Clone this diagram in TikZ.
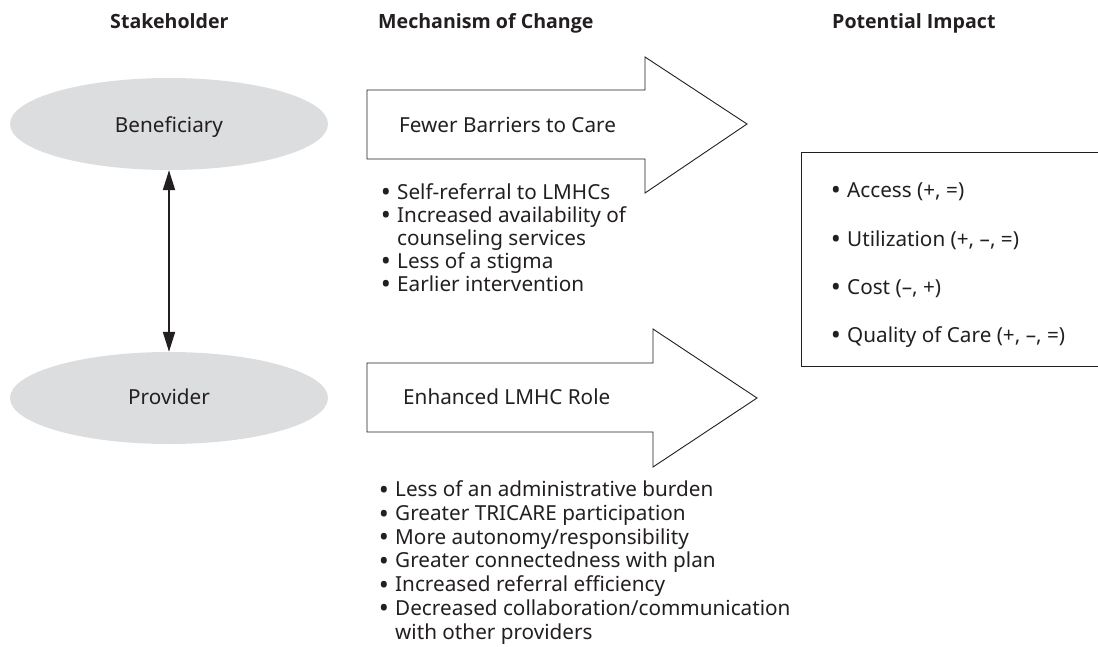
\documentclass[tikz,border=0pt]{standalone}
\usepackage{fontspec}
\setmainfont{Noto Sans}
\newfontfamily\hdrfont{Open Sans}
\usetikzlibrary{arrows.meta,shapes.geometric}
\definecolor{ink}{HTML}{231F20}
\definecolor{ovalgray}{HTML}{DCDDDE}
\newcommand{\bul}{\llap{\raisebox{-0.12em}{\scalebox{1.3}{\textbullet}}\hspace{0.3em}}}
\tikzset{
  hdr/.style={anchor=base west,inner sep=0pt,font=\fontsize{19.6}{24}\selectfont\hdrfont\bfseries,text=ink},
  txt/.style={anchor=base west,inner sep=0pt,font=\fontsize{20.7}{24}\selectfont,text=ink},
  list/.style={anchor=base west,inner sep=0pt,align=left,text=ink},
  oval/.style={ellipse,fill=ovalgray,draw=none,minimum width=318pt,minimum height=92pt,inner sep=0pt},
  blockarrow/.style={draw=ink,line width=0.9pt,fill=white,line join=miter},
  dbl/.style={{Triangle[length=20pt,width=12pt]}-{Triangle[length=20pt,width=12pt]},line width=2pt,draw=ink},
  boxline/.style={draw=ink,line width=0.9pt}
}
\begin{document}
\begin{tikzpicture}[x=1pt,y=-1pt]
\useasboundingbox (0,0) rectangle (1098,646);
% headers
\node[hdr] (h1) at (110,28) {Stakeholder};
\node[hdr] (h2) at (378,28) {Mechanism of Change};
\node[hdr] (h3) at (832,28) {Potential Impact};
% ovals
\node[oval] (ben) at (169,124) {};
\node[txt,anchor=base] (bent) at (169,132) {Beneficiary};
\node[oval] (prov) at (169,398) {};
\node[txt,anchor=base] (provt) at (169,404) {Provider};
\draw[dbl] (ben.south) -- (prov.north);
% top block arrow
\draw[blockarrow] (367,90) -- (645,90) -- (645,57) -- (747,124) -- (645,193) -- (645,159) -- (367,159) -- cycle;
\node[txt] (a1) at (399,132) {Fewer Barriers to Care};
% base anchor of a multi-line node = baseline of its last line
\node[list,font=\fontsize{20.7}{23}\selectfont] (blist) at (397,291)
  {\bul Self-referral to LMHCs\\
   \bul Increased availability of\\
   counseling services\\
   \bul Less of a stigma\\
   \bul Earlier intervention};
% bottom block arrow
\draw[blockarrow] (367,363) -- (653,363) -- (653,329) -- (757,398) -- (653,467) -- (653,432) -- (367,432) -- cycle;
\node[txt] (a2) at (403,404) {Enhanced LMHC Role};
\node[list,font=\fontsize{20.7}{23.67}\selectfont] (clist) at (395,639)
  {\bul Less of an administrative burden\\
   \bul Greater TRICARE participation\\
   \bul More autonomy/responsibility\\
   \bul Greater connectedness with plan\\
   \bul Increased referral efficiency\\
   \bul Decreased collaboration/communication\\
   with other providers};
% impact box (right side open, runs off the page)
\draw[boxline] (1098,152) -- (801,152) -- (801,366) -- (1098,366);
\node[txt] (d1) at (847,197) {\bul Access (+, =)};
\node[txt] (d2) at (847,246) {\bul Utilization (+, \textendash, =)};
\node[txt] (d3) at (847,294) {\bul Cost (\textendash, +)};
\node[txt] (d4) at (847,342) {\bul Quality of Care (+, \textendash, =)};
\end{tikzpicture}
\end{document}
